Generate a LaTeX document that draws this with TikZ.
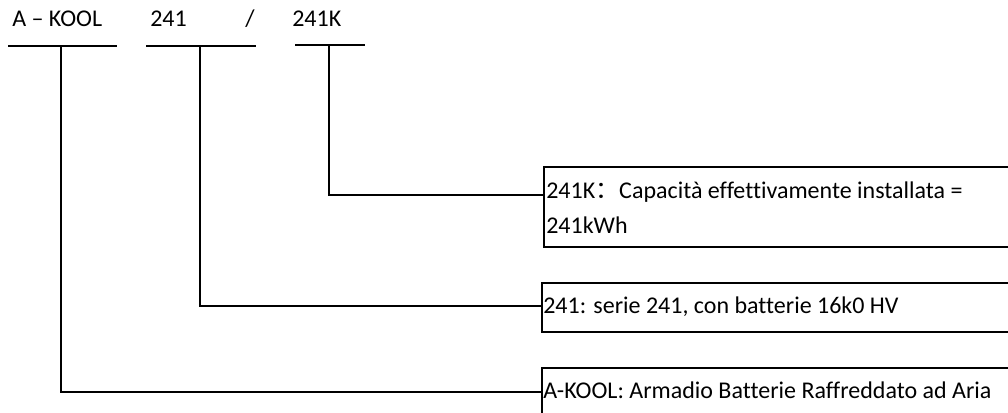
\documentclass[tikz,border=0pt]{standalone}
\usepackage{fontspec}
\setmainfont[Ligatures=NoCommon]{Carlito}
\newfontfamily\cjk{Noto Sans CJK SC}
\usetikzlibrary{calc}
\begin{document}
\begin{tikzpicture}[x=0.75pt,y=-0.75pt,
  ln/.style={line width=1.3pt},
  lbl/.style={anchor=base west,inner sep=0pt,font=\fontsize{18}{22}\selectfont},
  descbox/.style={draw,line width=1.1pt,anchor=north west,inner sep=0pt,outer sep=0pt,minimum width=353.25pt}]
\useasboundingbox (0,0) rectangle (1008,412);
\clip (0,0) rectangle (1008,412);
% top labels
\node[lbl] (tA) at (12,26) {A – KOOL};
\node[lbl] (tB) at (150,26) {241};
\node[lbl] (tS) at (245,26) {/};
\node[lbl] (tC) at (292,26) {241K};
% bars
\coordinate (a1) at (8,46);   \coordinate (a2) at (117,46);
\coordinate (b1) at (146,46); \coordinate (b2) at (256,46);
\coordinate (c1) at (295,45); \coordinate (c2) at (365,45);
\draw[ln] (a1) -- (a2);
\draw[ln] (b1) -- (b2);
\draw[ln] (c1) -- (c2);
\coordinate (am) at (61,46);
\coordinate (bm) at (200,46);
\coordinate (cm) at (329,45);
% boxes
\node[descbox,minimum height=60pt] (box1) at (544,167) {};
\node[descbox,minimum height=36.75pt] (box2) at (542,283) {};
\node[descbox,minimum height=45pt] (box3) at (542,368) {};
% texts
\node[lbl] (d1a) at (546,198) {241K{\cjk ：}Capacità effettivamente installata =};
\node[lbl] (d1b) at (546,233) {241kWh};
\node[lbl] (d2) at (543,313) {241: serie 241, con batterie 16k0 HV};
\node[lbl] (d3) at (543,398) {A-KOOL: Armadio Batterie Raffreddato ad Aria};
% connectors
\coordinate (p1) at ($(box1.north west)+(0,28)$);
\coordinate (p2) at ($(box2.north west)+(0,23)$);
\coordinate (p3) at ($(box3.north west)+(0,24)$);
\draw[ln] (cm) |- (p1);
\draw[ln] (bm) |- (p2);
\draw[ln] (am) |- (p3);
\end{tikzpicture}
\end{document}
